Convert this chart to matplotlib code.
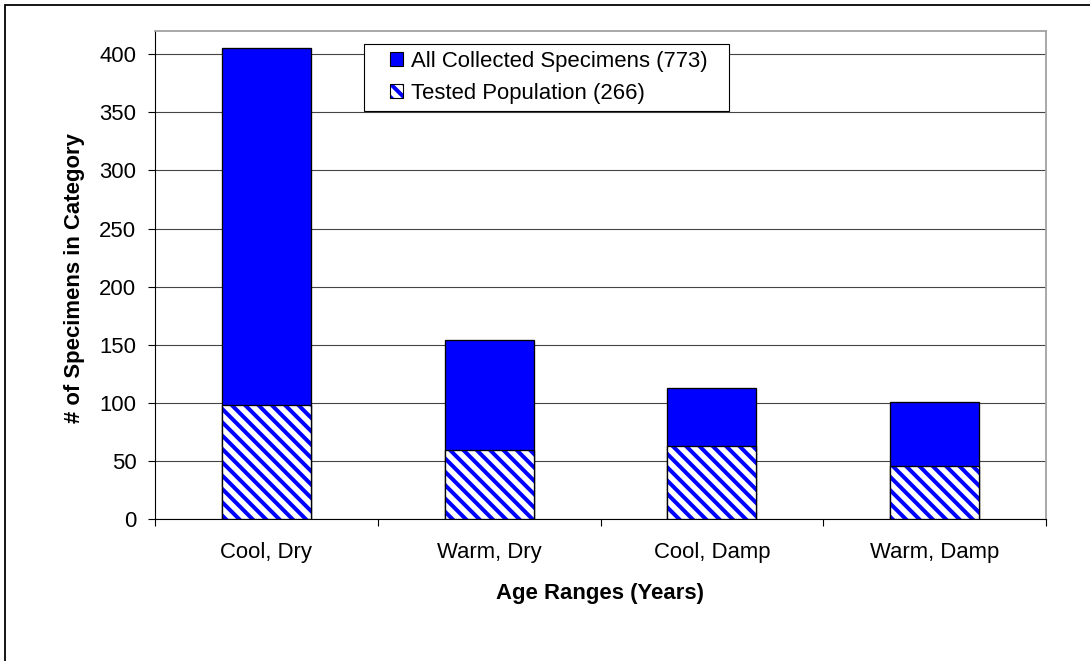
import numpy as np
import matplotlib
matplotlib.use('Agg')
from matplotlib import pyplot as plt
from matplotlib.patches import Patch, Rectangle
from matplotlib.legend_handler import HandlerTuple

categories = ['Cool, Dry', 'Warm, Dry', 'Cool, Damp', 'Warm, Damp']
all_collected = [405, 154, 113, 101]
tested = [98, 59, 63, 46]

plt.rcParams['font.family'] = ['Liberation Sans', 'DejaVu Sans']
plt.rcParams['hatch.linewidth'] = 3.6

DPI = 80
fs = 19.9
fig = plt.figure(figsize=(1090 / DPI, 661 / DPI), dpi=DPI)
ax = fig.add_axes([155 / 1090, 1 - 519 / 661, (1046 - 155) / 1090, (519 - 31) / 661])

x = np.arange(len(categories))
w = 0.40

ax.bar(x, all_collected, w, color='#0000ff', edgecolor='black', linewidth=1.2, zorder=3)
ax.bar(x, tested, w, color='white', edgecolor='#0000ff', hatch='\\\\', linewidth=0, zorder=4)
ax.bar(x, tested, w, fill=False, edgecolor='black', linewidth=1.2, zorder=5)

ax.set_xlim(-0.5, len(categories) - 0.5)
ax.set_ylim(0, 420)
ax.set_yticks(np.arange(0, 401, 50))
ax.yaxis.grid(True, color='#454545', linewidth=1.0, zorder=0)
ax.set_axisbelow(True)

# category boundaries get the tick marks, centres get the labels
ax.set_xticks(np.arange(-0.5, len(categories), 1.0))
ax.set_xticklabels([])
ax.set_xticks(x, minor=True)
ax.set_xticklabels(categories, minor=True)
ax.tick_params(axis='x', which='major', length=6.3, width=1, direction='out')
ax.tick_params(axis='x', which='minor', length=0, pad=21, labelsize=fs)
ax.tick_params(axis='y', length=6.3, width=1, direction='out', pad=10.5, labelsize=fs)

for s in ['top', 'right']:
    ax.spines[s].set_color('#a0a0a0')
    ax.spines[s].set_linewidth(1.6)
for s in ['left', 'bottom']:
    ax.spines[s].set_color('black')
    ax.spines[s].set_linewidth(1.0)

fig.text(600 / 1090, 1 - 594 / 661, 'Age Ranges (Years)', ha='center', va='center',
         fontsize=fs, fontweight='bold')
fig.text(75 / 1090, 1 - 278 / 661, '# of Specimens in Category', ha='center', va='center',
         rotation=90, fontsize=fs, fontweight='bold')

h1 = Patch(facecolor='#0000ff', edgecolor='black', linewidth=1.0)
h2a = Patch(facecolor='white', edgecolor='#0000ff', hatch='\\\\', linewidth=0)
h2b = Patch(fill=False, edgecolor='black', linewidth=1.0)
leg = fig.legend([h1, (h2a, h2b)], ['All Collected Specimens (773)', 'Tested Population (266)'],
                 handler_map={tuple: HandlerTuple(ndivide=1)},
                 loc='upper left', bbox_to_anchor=(390 / 1090, 1 - 51 / 661),
                 fontsize=fs, frameon=False,
                 handlelength=0.6, handleheight=0.6, handletextpad=0.36,
                 borderpad=0, labelspacing=0.5, borderaxespad=0)
# legend box drawn by hand (wider side padding than the legend frame allows)
fig.patches.append(Rectangle((364 / 1090, 1 - 111 / 661), (729 - 364) / 1090, 67 / 661,
                             transform=fig.transFigure, facecolor='white',
                             edgecolor='black', linewidth=1.0, zorder=5))
leg.set_zorder(6)

fig.patches.append(Rectangle((5 / 1090, -0.1), 1.2, 1.1 - 4.5 / 661, transform=fig.transFigure,
                             fill=False, edgecolor='black', linewidth=1.6))

fig.savefig('out.png', dpi=DPI)
